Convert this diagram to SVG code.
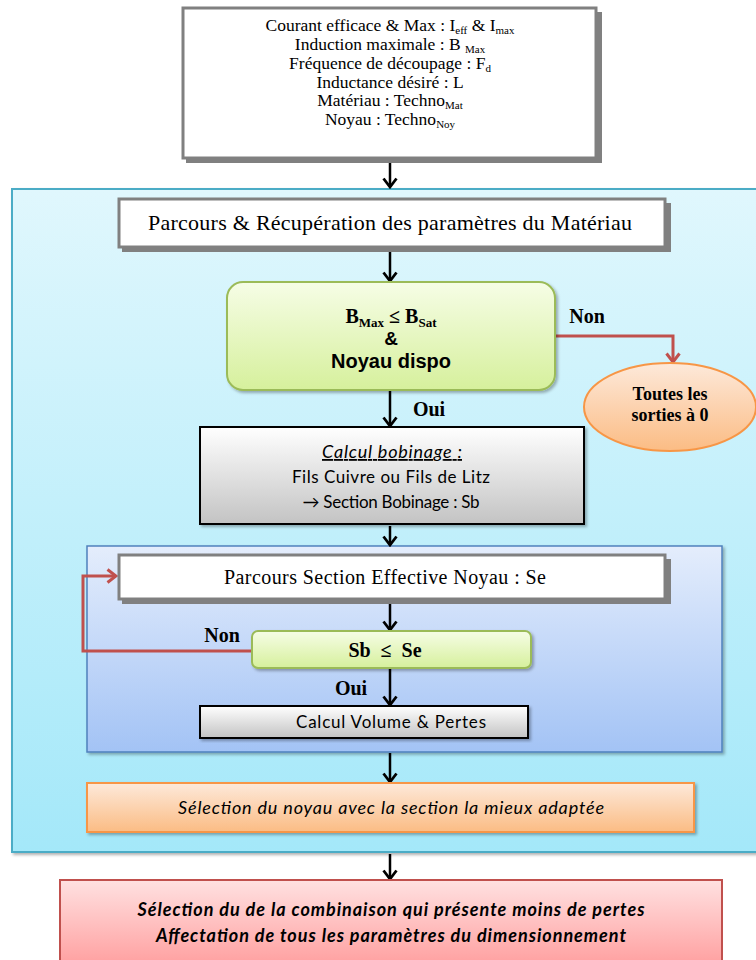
<svg xmlns="http://www.w3.org/2000/svg" width="756" height="960" viewBox="0 0 756 960">
<style>
.serif{font-family:"Liberation Serif","DejaVu Serif",serif;fill:#000}
.sans{font-family:Lato,"Liberation Sans",sans-serif;fill:#000}
.arial{font-family:"Liberation Sans",Arial,sans-serif;fill:#000}
.b{font-weight:bold}
.i{font-style:italic}
.wbox{fill:#fff;stroke:#808080;stroke-width:3}
.wshadow{fill:#808080}
.conn{fill:none;stroke:#000;stroke-width:2.5}
.red{fill:none;stroke:#c0504d;stroke-width:3}
.lbl{font-size:20px}
</style>
<defs>
<linearGradient id="gCyan" x1="0" y1="0" x2="0" y2="1"><stop offset="0" stop-color="#e0f7fd"/><stop offset="1" stop-color="#a4e8f9"/></linearGradient>
<linearGradient id="gBlue" x1="0" y1="0" x2="0" y2="1"><stop offset="0" stop-color="#e4edfc"/><stop offset="1" stop-color="#a3c3f5"/></linearGradient>
<linearGradient id="gGreen" x1="0" y1="0" x2="0" y2="1"><stop offset="0" stop-color="#f6fde6"/><stop offset="1" stop-color="#d6f09c"/></linearGradient>
<linearGradient id="gGray" x1="0" y1="0" x2="0" y2="1"><stop offset="0" stop-color="#ffffff"/><stop offset="1" stop-color="#c3c3c3"/></linearGradient>
<linearGradient id="gOrange" x1="0" y1="0" x2="0" y2="1"><stop offset="0" stop-color="#fde9da"/><stop offset="1" stop-color="#fbbc84"/></linearGradient>
<linearGradient id="gRed" x1="0" y1="0" x2="0" y2="1"><stop offset="0" stop-color="#ffe1e1"/><stop offset="1" stop-color="#ff9c9c"/></linearGradient>
<filter id="sh" x="-5%" y="-5%" width="110%" height="120%"><feDropShadow dx="2" dy="2" stdDeviation="1.5" flood-color="#000" flood-opacity="0.3"/></filter>
<marker id="ah" markerUnits="userSpaceOnUse" markerWidth="12" markerHeight="16" refX="10" refY="8" orient="auto" viewBox="0 0 12 16"><path d="M1.5,1.5 L10,8 L1.5,14.5" fill="none" stroke="#000" stroke-width="2.8"/></marker>
<marker id="ahr" markerUnits="userSpaceOnUse" markerWidth="12" markerHeight="16" refX="10" refY="8" orient="auto" viewBox="0 0 12 16"><path d="M1.5,1.5 L10,8 L1.5,14.5" fill="none" stroke="#c0504d" stroke-width="3"/></marker>
</defs>

<g id="container-materiau">
<rect x="12" y="189" width="750" height="663" fill="url(#gCyan)" stroke="#4bacc6" stroke-width="2" filter="url(#sh)"/>
</g>
<g id="container-section">
<rect x="87" y="546" width="635" height="206" fill="url(#gBlue)" stroke="#4f81bd" stroke-width="1.5" filter="url(#sh)"/>
</g>

<g id="connectors">
<line class="conn" x1="390" y1="160" x2="390" y2="187" marker-end="url(#ah)"/>
<line class="conn" x1="390" y1="252" x2="390" y2="281" marker-end="url(#ah)"/>
<line class="conn" x1="390" y1="391" x2="390" y2="426" marker-end="url(#ah)"/>
<line class="conn" x1="390" y1="526" x2="390" y2="545" marker-end="url(#ah)"/>
<line class="conn" x1="390" y1="603" x2="390" y2="630" marker-end="url(#ah)"/>
<line class="conn" x1="390" y1="669" x2="390" y2="705" marker-end="url(#ah)"/>
<line class="conn" x1="390" y1="753" x2="390" y2="782" marker-end="url(#ah)"/>
<line class="conn" x1="390" y1="854" x2="390" y2="879" marker-end="url(#ah)"/>
<polyline class="red" points="555,336 673,336 673,362" marker-end="url(#ahr)"/>
<polyline class="red" points="252,651 83,651 83,576 116,576" marker-end="url(#ahr)"/>
<text class="serif b lbl" x="587" y="323" text-anchor="middle">Non</text>
<text class="serif b lbl" x="429" y="416" text-anchor="middle">Oui</text>
<text class="serif b lbl" x="222" y="642" text-anchor="middle">Non</text>
<text class="serif b lbl" x="351" y="695" text-anchor="middle">Oui</text>
</g>

<g id="inputs">
<rect class="wshadow" x="186" y="12" width="416" height="151"/>
<rect class="wbox" x="183" y="8" width="413" height="150"/>
<text class="serif" x="390" y="31" font-size="17.5" text-anchor="middle">Courant efficace &amp; Max : I<tspan font-size="11" dy="2.5">eff</tspan><tspan dy="-2.5"> &amp; I</tspan><tspan font-size="11" dy="2.5">max</tspan></text>
<text class="serif" x="390" y="50" font-size="17.5" text-anchor="middle">Induction maximale : B <tspan font-size="11" dy="2.5">Max</tspan></text>
<text class="serif" x="390" y="69" font-size="17.5" text-anchor="middle">Fréquence de découpage : F<tspan font-size="11" dy="2.5">d</tspan></text>
<text class="serif" x="390" y="88" font-size="17.5" text-anchor="middle">Inductance désiré : L</text>
<text class="serif" x="390" y="106" font-size="17.5" text-anchor="middle">Matériau : Techno<tspan font-size="11" dy="2.5">Mat</tspan></text>
<text class="serif" x="390" y="125" font-size="17.5" text-anchor="middle">Noyau : Techno<tspan font-size="11" dy="2.5">Noy</tspan></text>
</g>

<g id="parcours-materiau">
<rect class="wshadow" x="122" y="203" width="549" height="49"/>
<rect class="wbox" x="119" y="199" width="546" height="48"/>
<text class="serif" x="390" y="230" font-size="22" text-anchor="middle" textLength="484">Parcours &amp; Récupération des paramètres du Matériau</text>
</g>

<g id="test-bsat">
<rect x="227" y="282" width="328" height="108" rx="16" fill="url(#gGreen)" stroke="#9bbb59" stroke-width="2" filter="url(#sh)"/>
<text class="serif b" x="391" y="323" font-size="20" text-anchor="middle">B<tspan font-size="13" dy="3.5">Max</tspan><tspan dy="-3.5"> ≤ B</tspan><tspan font-size="13" dy="3.5">Sat</tspan></text>
<text class="arial b" x="391" y="345" font-size="19" text-anchor="middle">&amp;</text>
<text class="arial b" x="391" y="368" font-size="20" text-anchor="middle">Noyau dispo</text>
</g>

<g id="sorties-zero">
<ellipse cx="670" cy="407" rx="86" ry="44" fill="url(#gOrange)" stroke="#f79646" stroke-width="2"/>
<text class="serif b" x="670" y="400" font-size="18" text-anchor="middle">Toutes les</text>
<text class="serif b" x="670" y="421" font-size="18" text-anchor="middle">sorties à 0</text>
</g>

<g id="calcul-bobinage">
<rect x="200" y="427" width="384" height="97" fill="url(#gGray)" stroke="#000" stroke-width="2" filter="url(#sh)"/>
<text class="sans i" x="392" y="458" font-size="18" text-anchor="middle" text-decoration="underline" textLength="140">Calcul bobinage :</text>
<text class="sans" x="391" y="483" font-size="17" text-anchor="middle" textLength="198">Fils Cuivre ou Fils de Litz</text>
<text class="sans" x="391" y="508" font-size="17" text-anchor="middle" textLength="177">→ Section Bobinage : Sb</text>
</g>

<g id="parcours-section">
<rect class="wshadow" x="122" y="559" width="549" height="45"/>
<rect class="wbox" x="119" y="555" width="546" height="44"/>
<text class="serif" x="385" y="584" font-size="20" text-anchor="middle" textLength="322">Parcours Section Effective Noyau : Se</text>
</g>

<g id="test-section">
<rect x="252" y="631" width="279" height="37" rx="6" fill="url(#gGreen)" stroke="#9bbb59" stroke-width="2" filter="url(#sh)"/>
<text class="serif b" x="385" y="657" font-size="20" text-anchor="middle" xml:space="preserve">Sb  ≤  Se</text>
</g>

<g id="calcul-volume">
<rect x="200" y="706" width="328" height="32" fill="url(#gGray)" stroke="#000" stroke-width="2" filter="url(#sh)"/>
<text class="sans" x="391" y="728" font-size="17" text-anchor="middle" textLength="190">Calcul Volume &amp; Pertes</text>
</g>

<g id="selection-noyau">
<rect x="87" y="783" width="607" height="49" fill="url(#gOrange)" stroke="#f79646" stroke-width="2" filter="url(#sh)"/>
<text class="sans i" x="391" y="814" font-size="18" text-anchor="middle" textLength="426">Sélection du noyau avec la section la mieux adaptée</text>
</g>

<g id="selection-finale">
<rect x="60" y="880" width="662" height="90" fill="url(#gRed)" stroke="#c0504d" stroke-width="2"/>
<text class="sans b i" x="391" y="916" font-size="18" text-anchor="middle" textLength="507">Sélection du de la combinaison qui présente moins de pertes</text>
<text class="sans b i" x="391" y="942" font-size="18" text-anchor="middle" textLength="470">Affectation de tous les paramètres du dimensionnement</text>
</g>
</svg>
